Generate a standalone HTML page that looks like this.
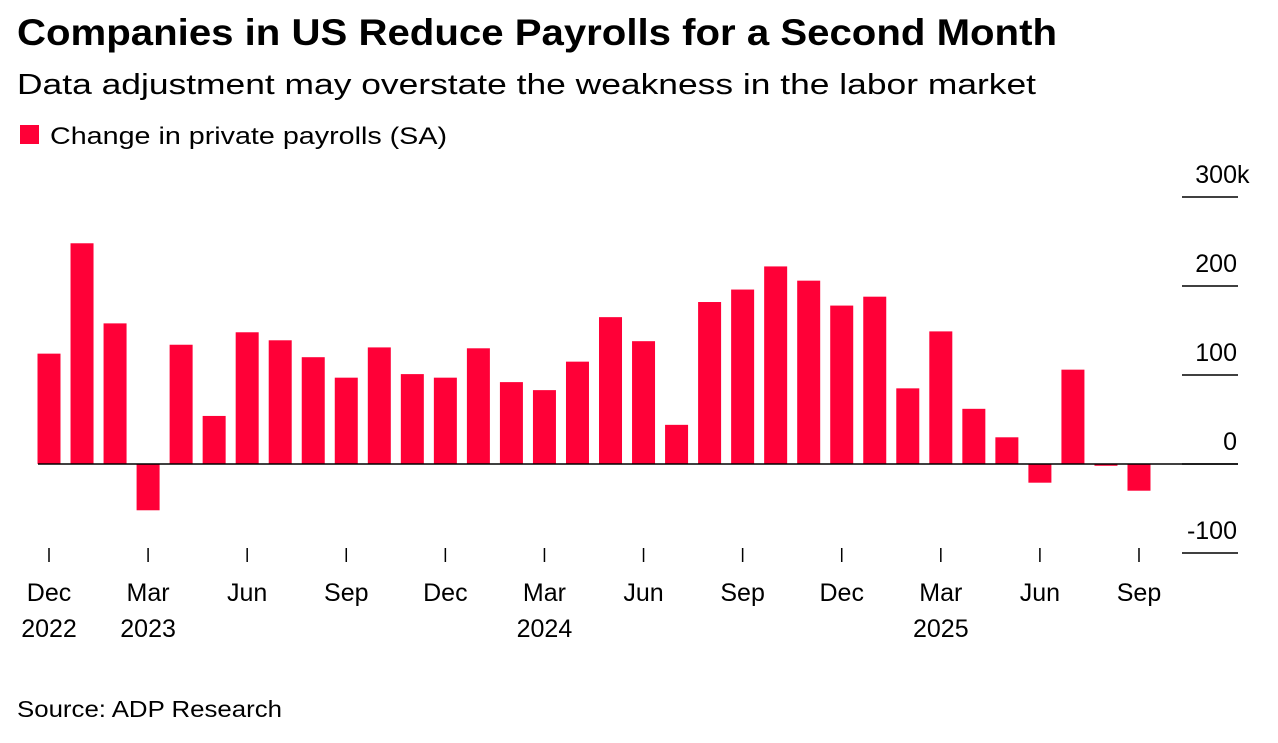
<!DOCTYPE html>
<html><head><meta charset="utf-8"><style>
body{margin:0;background:#fff;width:1278px;height:738px;overflow:hidden;font-family:"Liberation Sans",Arial,sans-serif;color:#000}
svg text{font-family:"Liberation Sans",Arial,sans-serif}
</style></head><body>
<svg width="1278" height="738">
<text x="17" y="45" font-size="37" font-weight="bold" textLength="1040" lengthAdjust="spacingAndGlyphs">Companies in US Reduce Payrolls for a Second Month</text>
<text x="17" y="94" font-size="29" textLength="1019" lengthAdjust="spacingAndGlyphs">Data adjustment may overstate the weakness in the labor market</text>
<rect x="20" y="125" width="19" height="19" fill="#ff0037"/>
<text x="50" y="144" font-size="24" textLength="397" lengthAdjust="spacingAndGlyphs">Change in private payrolls (SA)</text>
<text x="17" y="717" font-size="23" textLength="265" lengthAdjust="spacingAndGlyphs">Source: ADP Research</text>
<g id="plot"></g>
</svg>
<script>
const values=[124,248,158,-52,134,54,148,139,120,97,131,101,97,130,92,83,115,165,138,44,182,196,222,206,178,188,85,149,62,30,-21,106,-2,-30];
const yTicks=[300,200,100,0,-100];
const yTickLabels=["300","200","100","0","-100"];
const xTickIdx=[0,3,6,9,12,15,18,21,24,27,30,33];
const xTickLabels=["Dec","Mar","Jun","Sep","Dec","Mar","Jun","Sep","Dec","Mar","Jun","Sep"];
const xYearLabels=["2022","2023","","","","2024","","","","2025","",""];
const NS="http://www.w3.org/2000/svg";
const g=document.getElementById('plot');
const y=v=>464-v*0.89;
const x=i=>49+i*33.03;
function mk(t,a){const e=document.createElementNS(NS,t);for(const k in a)e.setAttribute(k,a[k]);g.appendChild(e);return e;}
yTicks.forEach((v,i)=>{
 const l=mk('line',{x1:1182,x2:1238,y1:y(v),y2:y(v),stroke:'#000','stroke-width':1.5});
 
 
 const t=mk('text',{x:1237,y:y(v)-14,'font-size':25,'text-anchor':'end'});
 t.textContent=yTickLabels[i];
 
 
 if(i===0){
  const k=mk('text',{x:1237,y:y(v)-14,'font-size':25});
  k.textContent='k';
  
  
 }
});
values.forEach((v,i)=>{
 const r=mk('rect',{x:x(i)-11.5,width:23,y:Math.min(y(v),y(0)),height:Math.abs(y(v)-y(0)),fill:'#ff0037'});
 
 
});
const b=mk('line',{x1:38,x2:1238,y1:y(0),y2:y(0),stroke:'#000','stroke-width':1.5});


xTickIdx.forEach((idx,i)=>{
 const l=mk('line',{x1:x(idx),x2:x(idx),y1:548,y2:562,stroke:'#000','stroke-width':1.5});
 
 
 const t=mk('text',{x:x(idx),y:601,'font-size':25,'text-anchor':'middle'});
 t.textContent=xTickLabels[i];
 
 
 if(xYearLabels[i]){
  const t2=mk('text',{x:x(idx),y:637,'font-size':25,'text-anchor':'middle'});
  t2.textContent=xYearLabels[i];
  
  
 }
});
</script>
</body></html>
